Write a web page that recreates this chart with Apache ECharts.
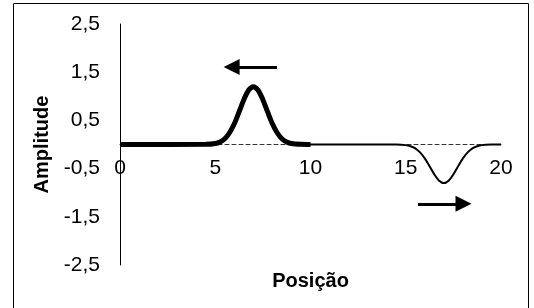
<!DOCTYPE html>
<html>
<head>
<meta charset="utf-8">
<script src="https://cdn.jsdelivr.net/npm/echarts@6/dist/echarts.min.js"></script>
<style>
html,body{margin:0;padding:0;background:#fff;}
#c{width:534px;height:308px;}
</style>
</head>
<body>
<div id="c"></div>
<script>
// Pulse moving left (thick line)
var xThick = [0, 4.5, 5, 5.25, 5.5, 5.75, 6, 6.25, 6.5, 6.75, 7, 7.25, 7.5, 7.75, 8, 8.25, 8.5, 8.75, 9, 9.5, 10];
var yThick = [0, 0.003, 0.02, 0.053, 0.12, 0.244, 0.43, 0.676, 0.93, 1.126, 1.2, 1.126, 0.93, 0.676, 0.43, 0.244, 0.12, 0.053, 0.02, 0.003, 0];
// Inverted pulse moving right (thin line)
var xThin = [9.5, 14.5, 15, 15.25, 15.5, 15.75, 16, 16.25, 16.5, 16.75, 17, 17.25, 17.5, 17.75, 18, 18.25, 18.5, 18.75, 19, 19.5, 20];
var yThin = [0, -0.002, -0.013, -0.035, -0.08, -0.163, -0.288, -0.45, -0.62, -0.75, -0.8, -0.75, -0.62, -0.45, -0.288, -0.163, -0.08, -0.035, -0.013, -0.002, 0];
// Direction arrows [from, to]
var arrowLeft = [[8.24, 1.61], [5.86, 1.61]];
var arrowRight = [[15.64, -1.23], [18.03, -1.23]];
// Axis ranges / ticks
var xTicks = [0, 5, 10, 15, 20];
var yTicks = [-2.5, -1.5, -0.5, 0.5, 1.5, 2.5];

function pairs(xs, ys) { return xs.map(function (x, i) { return [x, ys[i]]; }); }

var FONT = 'Arial, "Liberation Sans", sans-serif';
var chart = echarts.init(document.getElementById('c'), null, {renderer: 'canvas'});
chart.setOption({
  animation: false,
  backgroundColor: '#fff',
  grid: {left: 120, right: 33, top: 24, bottom: 43, containLabel: false, outerBoundsMode: 'none'},
  xAxis: {
    type: 'value',
    min: xTicks[0], max: xTicks[xTicks.length - 1], interval: 5,
    axisLine: {show: true, onZero: true, lineStyle: {color: '#333', width: 1, type: [4, 3]}},
    axisTick: {show: false},
    splitLine: {show: false},
    axisLabel: {color: '#000', fontSize: 21, fontFamily: FONT, margin: -107},
    name: 'Posição', nameLocation: 'middle', nameGap: 6,
    nameTextStyle: {color: '#000', fontSize: 20, fontWeight: 'bold', fontFamily: FONT}
  },
  yAxis: {
    type: 'value',
    min: yTicks[0], max: yTicks[yTicks.length - 1], interval: 1,
    axisLine: {show: true, lineStyle: {color: '#000', width: 1}},
    axisTick: {show: false},
    splitLine: {show: false},
    axisLabel: {color: '#000', fontSize: 21, fontFamily: FONT, margin: 20,
      formatter: function (v) { return v.toFixed(1).replace('.', ','); }},
    name: 'Amplitude', nameLocation: 'middle', nameGap: 60, nameRotate: 90,
    nameTextStyle: {color: '#000', fontSize: 20, fontWeight: 'bold', fontFamily: FONT}
  },
  graphic: [{
    type: 'rect', silent: true, z: 100,
    shape: {x: 13.5, y: 3.5, width: 515, height: 330},
    style: {fill: 'none', stroke: '#000', lineWidth: 1}
  }],
  series: [
    {
      type: 'line', data: pairs(xThin, yThin), smooth: 0.3, symbol: 'none',
      lineStyle: {color: '#000', width: 2}, z: 3
    },
    {
      type: 'line', data: pairs(xThick, yThick), smooth: 0.3, symbol: 'none',
      lineStyle: {color: '#000', width: 5}, z: 4,
      markLine: {
        silent: true, symbol: ['none', 'triangle'], symbolSize: [16, 16],
        label: {show: false},
        lineStyle: {color: '#000', width: 3, type: 'solid'},
        data: [
          [{coord: arrowLeft[0]}, {coord: arrowLeft[1]}],
          [{coord: arrowRight[0]}, {coord: arrowRight[1]}]
        ]
      }
    }
  ]
});
</script>
</body>
</html>
